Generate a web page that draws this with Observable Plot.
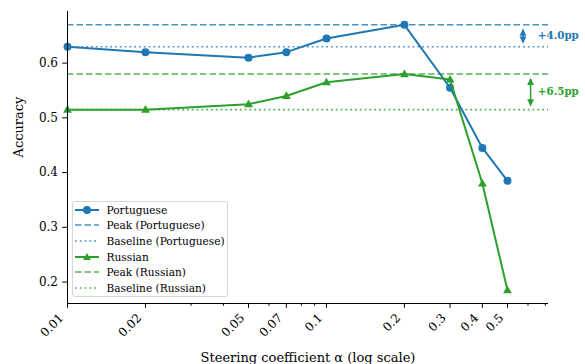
<!DOCTYPE html>
<html>
<head>
<meta charset="utf-8">
<script src="https://cdn.jsdelivr.net/npm/d3@7"></script>
<script src="https://cdn.jsdelivr.net/npm/@observablehq/plot@0.6"></script>
<style>
  html, body { margin: 0; padding: 0; background: #fff; }
  #wrap { position: relative; width: 585px; height: 364px; font-family: "DejaVu Serif", serif; }
  #legend { position: absolute; left: 71.5px; top: 200.5px; width: 156.5px; height: 96px;
    border: 1px solid #d6d6d6; border-radius: 3px; background: rgba(255,255,255,0.8); box-sizing: border-box; }
  .row { position: absolute; left: 0; height: 16px; display: flex; align-items: center; font-family: "DejaVu Serif", serif; font-size: 10.6px; color: #000; white-space: nowrap; }
  .row svg { margin-left: 2px; margin-right: 8px; }
</style>
</head>
<body>
<div id="wrap"></div>
<script>
const alphas = [0.01, 0.02, 0.05, 0.07, 0.1, 0.2, 0.3, 0.4, 0.5];
const portuguese = [0.63, 0.62, 0.61, 0.62, 0.645, 0.67, 0.555, 0.445, 0.385];
const russian = [0.515, 0.515, 0.525, 0.54, 0.565, 0.58, 0.57, 0.38, 0.185];
const peakPt = 0.67, basePt = 0.63;
const peakRu = 0.58, baseRu = 0.515;
const gainLabels = ["+4.0pp", "+6.5pp"];
const arrowX = [0.574, 0.614];
const labelX = 0.655;
const majorTicks = [0.01, 0.02, 0.05, 0.07, 0.1, 0.2, 0.3, 0.4, 0.5];
const minorTicks = [0.03, 0.04, 0.06, 0.08, 0.09, 0.6, 0.7];
const yTicks = [0.2, 0.3, 0.4, 0.5, 0.6];
const xDomain = [0.01, 0.72];
const yDomain = [0.1608, 0.6943];

const blue = "#1f77b4", green = "#2ca02c";
const FONT = "DejaVu Serif";
const ptData = alphas.map((a, i) => ({a, v: portuguese[i]}));
const ruData = alphas.map((a, i) => ({a, v: russian[i]}));
const arrows = [
  {x: arrowX[0], lo: basePt, hi: peakPt, c: blue, t: gainLabels[0]},
  {x: arrowX[1], lo: baseRu, hi: peakRu, c: green, t: gainLabels[1]}
];
const dash = "6.5,3", dot = "1.8,3";
// arrow head with its tip at the origin, pointing up
const headUp = {draw(ctx) { ctx.moveTo(0, 0); ctx.lineTo(-3.4, 7.3); ctx.lineTo(3.4, 7.3); ctx.closePath(); }};

const chart = Plot.plot({
  width: 585, height: 364,
  marginLeft: 67, marginRight: 37, marginTop: 11, marginBottom: 61,
  style: {fontFamily: FONT, fontSize: "12px", color: "#000", background: "#fff"},
  x: {type: "log", domain: xDomain},
  y: {domain: yDomain},
  marks: [
    Plot.ruleY([peakPt], {stroke: blue, strokeWidth: 1.6, strokeDasharray: dash, strokeOpacity: 0.8}),
    Plot.ruleY([basePt], {stroke: blue, strokeWidth: 1.6, strokeDasharray: dot, strokeOpacity: 0.8}),
    Plot.ruleY([peakRu], {stroke: green, strokeWidth: 1.6, strokeDasharray: dash, strokeOpacity: 0.8}),
    Plot.ruleY([baseRu], {stroke: green, strokeWidth: 1.6, strokeDasharray: dot, strokeOpacity: 0.8}),
    Plot.line(ptData, {x: "a", y: "v", stroke: blue, strokeWidth: 2}),
    Plot.dot(ptData, {x: "a", y: "v", r: 4, fill: blue, stroke: null}),
    Plot.line(ruData, {x: "a", y: "v", stroke: green, strokeWidth: 2}),
    Plot.dot(ruData, {x: "a", y: "v", r: 3.3, symbol: "triangle", fill: green, stroke: null, dy: 0.5}),
    // gain arrows
    Plot.ruleX(arrows, {x: "x", y1: "hi", y2: "lo", stroke: "c", strokeWidth: 1.5, insetTop: 6, insetBottom: 6}),
    Plot.dot(arrows, {x: "x", y: "hi", symbol: headUp, fill: "c", stroke: null, dy: 3.7}),
    Plot.dot(arrows, {x: "x", y: "lo", symbol: headUp, fill: "c", stroke: null, rotate: 180, dy: -3}),
    Plot.text(arrows, {x: labelX, y: d => (d.lo + d.hi) / 2, text: "t", fill: "c", fontWeight: "bold", fontSize: 10.3, fontFamily: FONT, textAnchor: "start"}),
    // axes: ticks
    Plot.axisY({ticks: yTicks, tickFormat: () => "", tickSize: 4.8, label: null}),
    Plot.axisX({ticks: majorTicks, tickFormat: () => "", tickSize: 4.8, label: null}),
    Plot.axisX({ticks: minorTicks, tickFormat: () => "", tickSize: 2.7, label: null}),
    // axes: tick labels
    Plot.text(yTicks, {y: d => d, frameAnchor: "left", text: d => d.toFixed(1), textAnchor: "end", dx: -9.5, fontSize: 12, fontFamily: FONT, fill: "#000"}),
    Plot.text(majorTicks, {x: d => d, frameAnchor: "bottom", text: d => String(d), textAnchor: "end", lineAnchor: "middle", rotate: -45, dx: -6, dy: 12.5, fontSize: 12, fontFamily: FONT, fill: "#000"}),
    // spines
    Plot.ruleX([xDomain[0]], {stroke: "#000", strokeWidth: 1}),
    Plot.ruleY([yDomain[0]], {stroke: "#000", strokeWidth: 1}),
    // axis titles
    Plot.text(["Steering coefficient α (log scale)"], {frameAnchor: "bottom", lineAnchor: "bottom", dy: 58, fontSize: 13, fontFamily: FONT, fill: "#000"}),
    Plot.text(["Accuracy"], {frameAnchor: "left", rotate: -90, dx: -49, fontSize: 13, fontFamily: FONT, fill: "#000"})
  ]
});
const wrap = document.getElementById("wrap");
wrap.appendChild(chart);

// legend
const legendItems = [
  {label: "Portuguese", color: blue, dash: null, marker: "circle"},
  {label: "Peak (Portuguese)", color: blue, dash: dash, marker: null},
  {label: "Baseline (Portuguese)", color: blue, dash: dot, marker: null},
  {label: "Russian", color: green, dash: null, marker: "triangle"},
  {label: "Peak (Russian)", color: green, dash: dash, marker: null},
  {label: "Baseline (Russian)", color: green, dash: dot, marker: null}
];
const legend = document.createElement("div");
legend.id = "legend";
legendItems.forEach((it, i) => {
  const row = document.createElement("div");
  row.className = "row";
  row.style.top = (0.3 + i * 15.6) + "px";
  const lw = it.dash ? 1.6 : 2;
  let m = "";
  if (it.marker === "circle") m = `<circle cx="12" cy="8" r="4" fill="${it.color}"/>`;
  if (it.marker === "triangle") m = `<path d="M12,4 L16,11 L8,11 Z" fill="${it.color}"/>`;
  row.innerHTML = `<svg width="24" height="16"><line x1="0" x2="24" y1="8" y2="8" stroke="${it.color}" stroke-width="${lw}" ${it.dash ? `stroke-dasharray="${it.dash}" stroke-opacity="0.8"` : ""}/>${m}</svg><span>${it.label}</span>`;
  legend.appendChild(row);
});
wrap.appendChild(legend);
</script>
</body>
</html>
